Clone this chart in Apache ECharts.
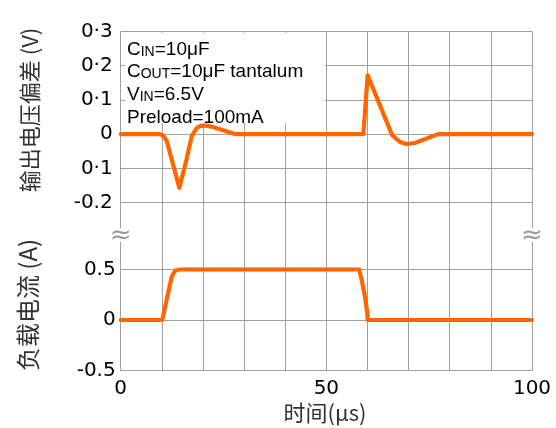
<!DOCTYPE html>
<html>
<head>
<meta charset="utf-8">
<script src="https://cdn.jsdelivr.net/npm/echarts@6/dist/echarts.min.js"></script>
<style>
  html, body { margin: 0; padding: 0; background: #fff; }
  #chart { width: 556px; height: 428px; }
</style>
</head>
<body>
<div id="chart"></div>
<script>
// Output voltage deviation (V) over time (µs)
const vTime = [0, 9.5, 10.3, 11.2, 14.25, 16.0, 17.3, 18.5, 19.5, 20.5, 22.0, 27.8, 59.0, 60.05, 66.0, 67.1, 67.9, 69.5, 71.5, 77.2, 100];
const vDev  = [0, 0, -0.004, -0.02, -0.157, -0.074, -0.005, 0.018, 0.024, 0.025, 0.022, 0, 0, 0.172, -0.003, -0.015, -0.023, -0.029, -0.026, 0, 0];

// Load current (A) over time (µs)
const iTime = [0, 10.1, 12.4, 13.2, 14.4, 57.95, 58.6, 59.4, 59.97, 60.05, 100];
const iLoad = [0, 0, 0.427, 0.486, 0.5, 0.5, 0.394, 0.228, 0.063, 0, 0];

// Tick labels as printed on the axes
const vTickValues = [-0.2, -0.1, 0, 0.1, 0.2, 0.3];
const vTickLabels = ['-0.2', '0\u00B71', '0', '0\u00B71', '0\u00B72', '0\u00B73'];
const iTickValues = [-0.5, 0, 0.5];
const iTickLabels = ['-0.5', '0', '0.5'];
const tTickValues = [0, 50, 100];
const tTickLabels = ['0', '50', '100'];

// Test conditions block
const noteLines = [
  ['C', 'IN', '=10\u03BCF'],
  ['C', 'OUT', '=10\u03BCF tantalum'],
  ['V', 'IN', '=6.5V'],
  ['Preload=100mA', '', '']
];

const voltName = '输出电压偏差 (V)';
const currName = '负载电流 (A)';
const timeName = '时间(\u03BCs)';

const ORANGE = '#FF6600';
const GRID = '#a0a0a0';
const LATIN = 'Liberation Sans, Arial, sans-serif';
const TICKFONT = 'DejaVu Sans, sans-serif';
const CJK = 'Noto Sans CJK SC, sans-serif';

const zip = (xs, ys) => xs.map((x, i) => [x, ys[i]]);
const lookup = (vals, labels) => (v) => {
  const k = vals.findIndex(t => Math.abs(t - v) < 1e-6);
  return k < 0 ? '' : labels[k];
};

const noteText = noteLines.map(([a, b, c]) => {
  let s = '{n|' + a + '}';
  if (b) s += '{s|' + b + '}';
  if (c) s += '{n|' + c + '}';
  return s;
}).join('\n');

const chart = echarts.init(document.getElementById('chart'), null, { renderer: 'canvas' });

const L = 120.7, R = 24;
const xBase = {
  type: 'value', min: 0, max: 100, interval: 10,
  axisTick: { show: false },
  splitLine: { show: true, lineStyle: { color: GRID, width: 1 } }
};

chart.setOption({
  animation: false,
  backgroundColor: '#fff',
  grid: [
    { left: L, right: R, top: 31.5, height: 171 },
    { left: L, right: R, top: 202.5, height: 66.8 },
    { left: L, right: R, top: 269.3, height: 101.4 }
  ],
  xAxis: [
    Object.assign({}, xBase, { gridIndex: 0, axisLine: { show: false }, axisLabel: { show: false } }),
    Object.assign({}, xBase, { gridIndex: 1, axisLine: { show: false }, axisLabel: { show: false } }),
    Object.assign({}, xBase, {
      gridIndex: 2,
      axisLine: { show: true, lineStyle: { color: GRID, width: 1 } },
      axisLabel: {
        show: true, margin: 8, color: '#000',
        fontFamily: TICKFONT, fontSize: 20,
        formatter: lookup(tTickValues, tTickLabels)
      }
    })
  ],
  yAxis: [
    {
      type: 'value', gridIndex: 0, min: -0.2, max: 0.3, interval: 0.1,
      axisLine: { show: false }, axisTick: { show: false },
      splitLine: { show: true, lineStyle: { color: GRID, width: 1 } },
      axisLabel: {
        margin: 8, color: '#000', fontFamily: TICKFONT, fontSize: 20,
        formatter: lookup(vTickValues, vTickLabels)
      }
    },
    { type: 'value', gridIndex: 1, min: 0, max: 1, show: false, splitLine: { show: false } },
    {
      type: 'value', gridIndex: 2, min: -0.5, max: 0.5, interval: 0.5,
      axisLine: { show: false }, axisTick: { show: false },
      splitLine: { show: true, lineStyle: { color: GRID, width: 1 } },
      axisLabel: {
        margin: 5, color: '#000', fontFamily: TICKFONT, fontSize: 20,
        formatter: lookup(iTickValues, iTickLabels)
      }
    }
  ],
  series: [
    {
      type: 'line', xAxisIndex: 0, yAxisIndex: 0,
      data: zip(vTime, vDev), showSymbol: false, smooth: false, z: 5,
      lineStyle: { color: ORANGE, width: 4.2, join: 'round', cap: 'round' }
    },
    {
      type: 'line', xAxisIndex: 2, yAxisIndex: 2,
      data: zip(iTime, iLoad), showSymbol: false, smooth: false, z: 5,
      lineStyle: { color: ORANGE, width: 4.2, join: 'round', cap: 'round' }
    }
  ],
  graphic: [
    // conditions block
    { type: 'rect', z: 3, shape: { x: 125, y: 33, width: 200, height: 90 }, style: { fill: '#fff' } },
    {
      type: 'text', z: 4, x: 127, y: 36,
      style: {
        text: noteText, fill: '#000', align: 'left', verticalAlign: 'top',
        rich: {
          n: { fontFamily: LATIN, fontSize: 19, lineHeight: 22.8, verticalAlign: 'bottom', fill: '#000' },
          s: { fontFamily: LATIN, fontSize: 14, lineHeight: 22.8, verticalAlign: 'bottom', fill: '#000' }
        }
      }
    },
    // axis break marks
    { type: 'rect', z: 3, shape: { x: 113, y: 228, width: 16, height: 14 }, style: { fill: '#fff' } },
    { type: 'rect', z: 3, shape: { x: 524, y: 228, width: 16, height: 14 }, style: { fill: '#fff' } },
    { type: 'text', z: 4, x: 120.7, y: 236, style: { text: '\u2248', font: '26px DejaVu Sans', fill: '#9a9a9a', align: 'center', verticalAlign: 'middle' } },
    { type: 'text', z: 4, x: 532, y: 236, style: { text: '\u2248', font: '26px DejaVu Sans', fill: '#9a9a9a', align: 'center', verticalAlign: 'middle' } },
    // axis titles
    { type: 'text', x: 30, y: 110, rotation: Math.PI / 2, style: { text: voltName, fontFamily: CJK, fontSize: 22, fill: '#333', align: 'center', verticalAlign: 'middle' } },
    { type: 'text', x: 28, y: 305, rotation: Math.PI / 2, style: { text: currName, fontFamily: CJK, fontSize: 24, fill: '#333', align: 'center', verticalAlign: 'middle' } },
    { type: 'text', x: 325, y: 413, style: { text: timeName, fontFamily: CJK, fontSize: 22, fill: '#333', align: 'center', verticalAlign: 'middle' } }
  ]
});
</script>
</body>
</html>
